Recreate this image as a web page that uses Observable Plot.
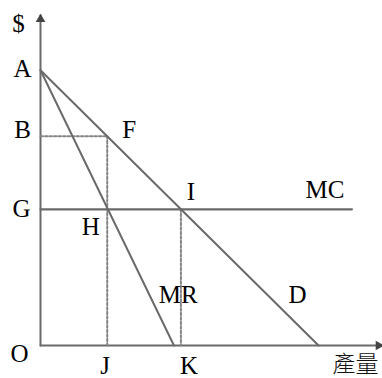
<!DOCTYPE html>
<html>
<head>
<meta charset="utf-8">
<script src="https://cdn.jsdelivr.net/npm/d3@7"></script>
<script src="https://cdn.jsdelivr.net/npm/@observablehq/plot@0.6"></script>
<style>
  html, body { margin: 0; padding: 0; background: #fff; }
  svg { display: block; }
</style>
</head>
<body>
<div id="chart"></div>
<script>
// ---- data (quantity q, price p) ----
const demandQ = [0, 10];
const demandP = [10, 0];
const mrQ = [0, 4.8];
const mrP = [10, 0];
const mcLevel = 4.95;
const mcEndQ = 11.2;
const bLevel = 7.6;
const qF = 2.4;      // J
const qH = 2.42;     // MR meets MC
const qI = 5.05;     // K (D meets MC)
const axisTopP = 12.0;
const axisEndQ = 12.3;

const labelNames = ["$", "A", "B", "F", "G", "H", "I", "MC", "MR", "D", "O", "J", "K"];
const labelAnchorQ = [0, 0, 0, qF, 0, qH, qI, mcEndQ, 3.91, 8.147, 0, qF, qI];
const labelAnchorP = [axisTopP, 10, bLevel, bLevel, mcLevel, mcLevel, mcLevel, mcLevel, 1.853, 1.853, 0, 0, 0];
const cjkName = "產量";

const demand = demandQ.map((q, i) => ({q, p: demandP[i]}));
const mr = mrQ.map((q, i) => ({q, p: mrP[i]}));
const mc = [{q: 0, p: mcLevel}, {q: mcEndQ, p: mcLevel}];

// layout
const W = 382, H = 378, mL = 40, mR = 0, mT = 1, mB = 33;
const yMax = 12.5;
const pxQ = (W - mL - mR) / axisEndQ;
const pxP = (H - mT - mB) / yMax;
// pixel offsets of labels from their anchors
const offs = [[-22, 9], [-18, -1], [-18, -6], [22, -6], [-19, 0], [-17, 18], [10, -17], [-27, -19], [29, 0], [30.5, 0], [-21, 8], [-2, 20.5], [8, 20.5]];
const labels = labelNames.map((t, i) => ({
  t,
  q: labelAnchorQ[i] + offs[i][0] / pxQ,
  p: labelAnchorP[i] - offs[i][1] / pxP
}));
const cjkLabel = [{t: cjkName, q: axisEndQ - 27 / pxQ, p: 0 - 19 / pxP}];

const lineColor = "#6a6a6a";

const chart = Plot.plot({
  width: W,
  height: H,
  marginLeft: mL,
  marginRight: mR,
  marginTop: mT,
  marginBottom: mB,
  x: {domain: [0, axisEndQ], axis: null},
  y: {domain: [0, yMax], axis: null},
  style: {background: "#fff", overflow: "visible"},
  marks: [
    // axes
    Plot.line([{q: 0, p: 0}, {q: 0, p: axisTopP}], {x: "q", y: "p", stroke: lineColor, strokeWidth: 2}),
    Plot.line([{q: 0, p: 0}, {q: axisEndQ, p: 0}], {x: "q", y: "p", stroke: lineColor, strokeWidth: 2}),
    Plot.dot([{q: 0, p: axisTopP}], {x: "q", y: "p", symbol: "triangle", r: 3.6, fill: "#444", stroke: "none", dy: 4}),
    Plot.dot([{q: axisEndQ, p: 0}], {x: "q", y: "p", symbol: "triangle", r: 3.6, fill: "#444", stroke: "none", rotate: 90, dx: -4}),
    // dotted guides
    Plot.line([{q: 0, p: bLevel}, {q: qF, p: bLevel}], {x: "q", y: "p", stroke: "#858585", strokeWidth: 2, strokeDasharray: "2.5,2"}),
    Plot.line([{q: qF, p: bLevel}, {q: qF, p: 0}], {x: "q", y: "p", stroke: "#858585", strokeWidth: 2, strokeDasharray: "2.5,2"}),
    Plot.line([{q: qI, p: mcLevel}, {q: qI, p: 0}], {x: "q", y: "p", stroke: "#858585", strokeWidth: 2, strokeDasharray: "2.5,2"}),
    // curves
    Plot.line(mc, {x: "q", y: "p", stroke: lineColor, strokeWidth: 2.2}),
    Plot.line(demand, {x: "q", y: "p", stroke: lineColor, strokeWidth: 2}),
    Plot.line(mr, {x: "q", y: "p", stroke: lineColor, strokeWidth: 2}),
    // labels
    Plot.text(labels, {x: "q", y: "p", text: "t", fontSize: 25, fontFamily: "'Liberation Serif', 'DejaVu Serif', serif", fill: "#000", textAnchor: "middle", lineAnchor: "middle"}),
    Plot.text(cjkLabel, {x: "q", y: "p", text: "t", fontSize: 23, fontFamily: "'Noto Sans CJK TC', 'Noto Sans CJK SC', sans-serif", fontWeight: 300, fill: "#111", textAnchor: "middle", lineAnchor: "middle"})
  ]
});
document.getElementById("chart").appendChild(chart);
</script>
</body>
</html>
